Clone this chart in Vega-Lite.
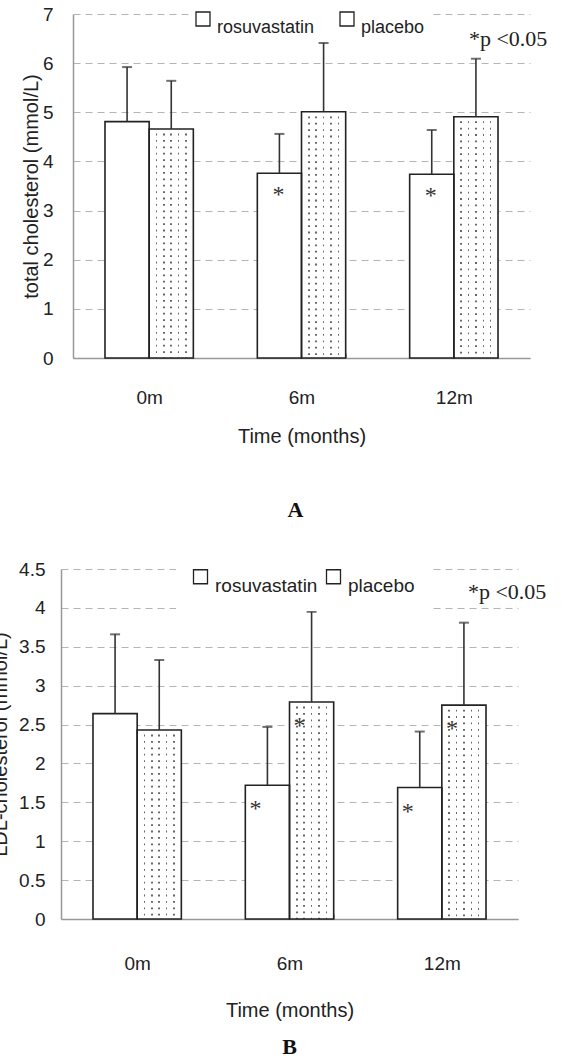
{
  "$schema": "https://vega.github.io/schema/vega-lite/v6.json",
  "autosize": {"type": "none"},
  "padding": {"left": 61, "top": 14, "right": 502, "bottom": 1045},
  "bounds": "flush",
  "spacing": 211,
  "resolve": {"scale": {"fill": "independent"}, "legend": {"fill": "independent"}},
  "config": {
    "view": {"stroke": null},
    "font": "Liberation Sans",
    "axis": {"labelColor": "#222", "titleColor": "#222", "titleFontWeight": "normal", "labelFont": "Liberation Sans", "titleFont": "Liberation Sans", "labelOverlap": false}
  },
  "datasets": {
    "tc": [
      {"time": "0m", "group": "rosuvastatin", "mean": 4.81, "upper": 5.92, "sig": false},
      {"time": "0m", "group": "placebo", "mean": 4.66, "upper": 5.64, "sig": false},
      {"time": "6m", "group": "rosuvastatin", "mean": 3.76, "upper": 4.56, "sig": true},
      {"time": "6m", "group": "placebo", "mean": 5.01, "upper": 6.41, "sig": false},
      {"time": "12m", "group": "rosuvastatin", "mean": 3.74, "upper": 4.64, "sig": true},
      {"time": "12m", "group": "placebo", "mean": 4.91, "upper": 6.09, "sig": false}
    ],
    "ldl": [
      {"time": "0m", "group": "rosuvastatin", "mean": 2.64, "upper": 3.66, "sig": false},
      {"time": "0m", "group": "placebo", "mean": 2.43, "upper": 3.33, "sig": false},
      {"time": "6m", "group": "rosuvastatin", "mean": 1.72, "upper": 2.47, "sig": true},
      {"time": "6m", "group": "placebo", "mean": 2.79, "upper": 3.95, "sig": true},
      {"time": "12m", "group": "rosuvastatin", "mean": 1.69, "upper": 2.41, "sig": true},
      {"time": "12m", "group": "placebo", "mean": 2.75, "upper": 3.81, "sig": true}
    ]
  },
  "vconcat": [
    {
      "width": 469,
      "height": 344,
      "data": {"name": "tc"},
      "title": {"text": "A", "orient": "bottom", "font": "Liberation Serif", "fontSize": 22, "fontWeight": "bold", "offset": 54, "anchor": "middle", "color": "#111"},
      "encoding": {
        "x": {"field": "time", "type": "nominal", "sort": ["0m", "6m", "12m"],
          "scale": {"paddingInner": 0.42, "paddingOuter": 0.21, "range": [12, 469]},
          "axis": {"title": "Time (months)", "labelAngle": 0, "tickBand": "extent", "tickSize": -5, "tickColor": "#999", "domainColor": "#999", "domainWidth": 1.5, "labelFontSize": 19, "labelPadding": 35, "titleFontSize": 20, "titleY": 84, "titleBaseline": "alphabetic", "grid": false}},
        "xOffset": {"field": "group", "type": "nominal", "sort": ["rosuvastatin", "placebo"], "scale": {"paddingInner": 0, "paddingOuter": 0}}
      },
      "layer": [
        {
          "mark": {"type": "bar"},
          "encoding": {
            "y": {"field": "mean", "type": "quantitative", "title": "total cholesterol (mmol/L)", "scale": {"domain": [0, 7], "nice": false},
              "axis": {"values": [0, 1, 2, 3, 4, 5, 6, 7], "ticks": false, "offset": -12, "domainColor": "#999", "domainWidth": 1.5, "grid": true, "gridDash": [7, 5], "gridColor": "#b5b5b5", "labelPadding": 20, "labelFontSize": 19, "titleFontSize": 20, "titleX": -42, "titleY": 172, "titleBaseline": "middle", "titleAngle": 270}},
            "fill": {"field": "group", "type": "nominal",
              "scale": {"domain": ["rosuvastatin", "placebo"], "range": ["#ffffff", "#ffffff"]},
              "legend": {"title": null, "orient": "none", "legendX": 128, "legendY": -9, "direction": "horizontal", "symbolType": "square", "symbolSize": 196, "symbolStrokeColor": "#222", "symbolStrokeWidth": 1.3, "labelFont": "Liberation Sans", "labelFontSize": 18, "labelColor": "#222", "labelBaseline": "top", "labelOffset": 5, "columnPadding": 22, "fillColor": "white", "padding": 5, "zindex": 0}}
          }
        },
        {
          "transform": [{"filter": "datum.group === 'placebo'"}],
          "mark": {"type": "bar", "fill": {"gradient": "linear", "x1": 0, "x2": 1, "y1": 0, "y2": 0, "stops": [
            {"offset": 0, "color": "#ffffff"}, {"offset": 0.15, "color": "#ffffff"}, {"offset": 0.15, "color": "#666666"}, {"offset": 0.185, "color": "#666666"}, {"offset": 0.185, "color": "#ffffff"},
            {"offset": 0.315, "color": "#ffffff"}, {"offset": 0.315, "color": "#666666"}, {"offset": 0.35, "color": "#666666"}, {"offset": 0.35, "color": "#ffffff"},
            {"offset": 0.4825, "color": "#ffffff"}, {"offset": 0.4825, "color": "#666666"}, {"offset": 0.5175, "color": "#666666"}, {"offset": 0.5175, "color": "#ffffff"},
            {"offset": 0.65, "color": "#ffffff"}, {"offset": 0.65, "color": "#666666"}, {"offset": 0.685, "color": "#666666"}, {"offset": 0.685, "color": "#ffffff"},
            {"offset": 0.815, "color": "#ffffff"}, {"offset": 0.815, "color": "#666666"}, {"offset": 0.85, "color": "#666666"}, {"offset": 0.85, "color": "#ffffff"},
            {"offset": 1, "color": "#ffffff"}]}},
          "encoding": {"y": {"field": "mean", "type": "quantitative", "title": "total cholesterol (mmol/L)",
              "axis": {"values": [0, 1, 2, 3, 4, 5, 6, 7], "ticks": false, "offset": -12, "domainColor": "#999", "domainWidth": 1.5, "grid": true, "gridDash": [7, 5], "gridColor": "#b5b5b5", "labelPadding": 20, "labelFontSize": 19, "titleFontSize": 20, "titleX": -42, "titleY": 172, "titleBaseline": "middle", "titleAngle": 270}}}
        },
        {
          "transform": [{"filter": "datum.group === 'placebo'"}],
          "mark": {"type": "rule", "stroke": "#ffffff", "strokeWidth": 42, "strokeDash": [4.6, 1.8], "strokeCap": "butt"},
          "encoding": {"y": {"field": "mean", "type": "quantitative", "title": "total cholesterol (mmol/L)",
              "axis": {"values": [0, 1, 2, 3, 4, 5, 6, 7], "ticks": false, "offset": -12, "domainColor": "#999", "domainWidth": 1.5, "grid": true, "gridDash": [7, 5], "gridColor": "#b5b5b5", "labelPadding": 20, "labelFontSize": 19, "titleFontSize": 20, "titleX": -42, "titleY": 172, "titleBaseline": "middle", "titleAngle": 270}}, "y2": {"datum": 0}}
        },
        {
          "mark": {"type": "bar", "fill": "transparent", "stroke": "#222", "strokeWidth": 1.6},
          "encoding": {"y": {"field": "mean", "type": "quantitative", "title": "total cholesterol (mmol/L)",
              "axis": {"values": [0, 1, 2, 3, 4, 5, 6, 7], "ticks": false, "offset": -12, "domainColor": "#999", "domainWidth": 1.5, "grid": true, "gridDash": [7, 5], "gridColor": "#b5b5b5", "labelPadding": 20, "labelFontSize": 19, "titleFontSize": 20, "titleX": -42, "titleY": 172, "titleBaseline": "middle", "titleAngle": 270}}}
        },
        {
          "mark": {"type": "rule", "stroke": "#333", "strokeWidth": 1.6},
          "encoding": {"y": {"field": "mean", "type": "quantitative", "title": "total cholesterol (mmol/L)",
              "axis": {"values": [0, 1, 2, 3, 4, 5, 6, 7], "ticks": false, "offset": -12, "domainColor": "#999", "domainWidth": 1.5, "grid": true, "gridDash": [7, 5], "gridColor": "#b5b5b5", "labelPadding": 20, "labelFontSize": 19, "titleFontSize": 20, "titleX": -42, "titleY": 172, "titleBaseline": "middle", "titleAngle": 270}}, "y2": {"field": "upper"}}
        },
        {
          "mark": {"type": "tick", "orient": "horizontal", "size": 10, "thickness": 2, "color": "#333"},
          "encoding": {"y": {"field": "upper", "type": "quantitative", "title": "total cholesterol (mmol/L)",
              "axis": {"values": [0, 1, 2, 3, 4, 5, 6, 7], "ticks": false, "offset": -12, "domainColor": "#999", "domainWidth": 1.5, "grid": true, "gridDash": [7, 5], "gridColor": "#b5b5b5", "labelPadding": 20, "labelFontSize": 19, "titleFontSize": 20, "titleX": -42, "titleY": 172, "titleBaseline": "middle", "titleAngle": 270}}}
        },
        {
          "transform": [{"filter": "datum.sig"}],
          "mark": {"type": "text", "text": "*", "font": "Liberation Serif", "fontSize": 24, "color": "#333", "baseline": "middle", "dy": 22, "dx": -1},
          "encoding": {"y": {"field": "mean", "type": "quantitative", "title": "total cholesterol (mmol/L)",
              "axis": {"values": [0, 1, 2, 3, 4, 5, 6, 7], "ticks": false, "offset": -12, "domainColor": "#999", "domainWidth": 1.5, "grid": true, "gridDash": [7, 5], "gridColor": "#b5b5b5", "labelPadding": 20, "labelFontSize": 19, "titleFontSize": 20, "titleX": -42, "titleY": 172, "titleBaseline": "middle", "titleAngle": 270}}}
        },
        {
          "data": {"values": [{"time": "12m", "group": "placebo", "note": "*p <0.05"}]},
          "mark": {"type": "text", "font": "Liberation Serif", "fontSize": 22, "color": "#222", "align": "left", "baseline": "alphabetic", "dx": -7},
          "encoding": {"y": {"datum": 6.34, "type": "quantitative", "title": "total cholesterol (mmol/L)",
              "axis": {"values": [0, 1, 2, 3, 4, 5, 6, 7], "ticks": false, "offset": -12, "domainColor": "#999", "domainWidth": 1.5, "grid": true, "gridDash": [7, 5], "gridColor": "#b5b5b5", "labelPadding": 20, "labelFontSize": 19, "titleFontSize": 20, "titleX": -42, "titleY": 172, "titleBaseline": "middle", "titleAngle": 270}}, "text": {"field": "note"}}
        }
      ]
    },
    {
      "width": 457,
      "height": 350,
      "data": {"name": "ldl"},
      "title": {"text": "B", "orient": "bottom", "font": "Liberation Serif", "fontSize": 22, "fontWeight": "bold", "offset": 17, "anchor": "middle", "color": "#111"},
      "encoding": {
        "x": {"field": "time", "type": "nominal", "sort": ["0m", "6m", "12m"],
          "scale": {"paddingInner": 0.42, "paddingOuter": 0.21},
          "axis": {"title": "Time (months)", "labelAngle": 0, "tickBand": "extent", "tickSize": -5, "tickColor": "#999", "domainColor": "#999", "domainWidth": 1.5, "labelFontSize": 19, "labelPadding": 40, "titleFontSize": 20, "titleY": 97, "titleBaseline": "alphabetic", "grid": false}},
        "xOffset": {"field": "group", "type": "nominal", "sort": ["rosuvastatin", "placebo"], "scale": {"paddingInner": 0, "paddingOuter": 0}}
      },
      "layer": [
        {
          "mark": {"type": "bar"},
          "encoding": {
            "y": {"field": "mean", "type": "quantitative", "title": "LDL-cholesterol (mmol/L)", "scale": {"domain": [0, 4.5], "nice": false},
              "axis": {"values": [0, 0.5, 1, 1.5, 2, 2.5, 3, 3.5, 4, 4.5], "labelExpr": "datum.value + ''", "ticks": false, "domainColor": "#999", "domainWidth": 1.5, "grid": true, "gridDash": [7, 5], "gridColor": "#b5b5b5", "labelPadding": 16, "labelFontSize": 19, "titleFontSize": 20, "titleX": -61, "titleY": 175, "titleBaseline": "middle", "titleAngle": 270}},
            "fill": {"field": "group", "type": "nominal",
              "scale": {"domain": ["rosuvastatin", "placebo"], "range": ["#ffffff", "#ffffff"]},
              "legend": {"title": null, "orient": "none", "legendX": 115, "legendY": -17, "direction": "horizontal", "symbolType": "square", "symbolSize": 196, "symbolStrokeColor": "#222", "symbolStrokeWidth": 1.3, "labelFont": "Liberation Sans", "labelFontSize": 19, "labelColor": "#222", "labelBaseline": "top", "labelOffset": 5, "columnPadding": 5, "fillColor": "white", "padding": 15, "zindex": 0}}
          }
        },
        {
          "transform": [{"filter": "datum.group === 'placebo'"}],
          "mark": {"type": "bar", "fill": {"gradient": "linear", "x1": 0, "x2": 1, "y1": 0, "y2": 0, "stops": [
            {"offset": 0, "color": "#ffffff"}, {"offset": 0.15, "color": "#ffffff"}, {"offset": 0.15, "color": "#666666"}, {"offset": 0.185, "color": "#666666"}, {"offset": 0.185, "color": "#ffffff"},
            {"offset": 0.315, "color": "#ffffff"}, {"offset": 0.315, "color": "#666666"}, {"offset": 0.35, "color": "#666666"}, {"offset": 0.35, "color": "#ffffff"},
            {"offset": 0.4825, "color": "#ffffff"}, {"offset": 0.4825, "color": "#666666"}, {"offset": 0.5175, "color": "#666666"}, {"offset": 0.5175, "color": "#ffffff"},
            {"offset": 0.65, "color": "#ffffff"}, {"offset": 0.65, "color": "#666666"}, {"offset": 0.685, "color": "#666666"}, {"offset": 0.685, "color": "#ffffff"},
            {"offset": 0.815, "color": "#ffffff"}, {"offset": 0.815, "color": "#666666"}, {"offset": 0.85, "color": "#666666"}, {"offset": 0.85, "color": "#ffffff"},
            {"offset": 1, "color": "#ffffff"}]}},
          "encoding": {"y": {"field": "mean", "type": "quantitative", "title": "LDL-cholesterol (mmol/L)",
              "axis": {"values": [0, 0.5, 1, 1.5, 2, 2.5, 3, 3.5, 4, 4.5], "labelExpr": "datum.value + ''", "ticks": false, "domainColor": "#999", "domainWidth": 1.5, "grid": true, "gridDash": [7, 5], "gridColor": "#b5b5b5", "labelPadding": 16, "labelFontSize": 19, "titleFontSize": 20, "titleX": -61, "titleY": 175, "titleBaseline": "middle", "titleAngle": 270}}}
        },
        {
          "transform": [{"filter": "datum.group === 'placebo'"}],
          "mark": {"type": "rule", "stroke": "#ffffff", "strokeWidth": 42, "strokeDash": [4.6, 1.8], "strokeCap": "butt"},
          "encoding": {"y": {"field": "mean", "type": "quantitative", "title": "LDL-cholesterol (mmol/L)",
              "axis": {"values": [0, 0.5, 1, 1.5, 2, 2.5, 3, 3.5, 4, 4.5], "labelExpr": "datum.value + ''", "ticks": false, "domainColor": "#999", "domainWidth": 1.5, "grid": true, "gridDash": [7, 5], "gridColor": "#b5b5b5", "labelPadding": 16, "labelFontSize": 19, "titleFontSize": 20, "titleX": -61, "titleY": 175, "titleBaseline": "middle", "titleAngle": 270}}, "y2": {"datum": 0}}
        },
        {
          "mark": {"type": "bar", "fill": "transparent", "stroke": "#222", "strokeWidth": 1.6},
          "encoding": {"y": {"field": "mean", "type": "quantitative", "title": "LDL-cholesterol (mmol/L)",
              "axis": {"values": [0, 0.5, 1, 1.5, 2, 2.5, 3, 3.5, 4, 4.5], "labelExpr": "datum.value + ''", "ticks": false, "domainColor": "#999", "domainWidth": 1.5, "grid": true, "gridDash": [7, 5], "gridColor": "#b5b5b5", "labelPadding": 16, "labelFontSize": 19, "titleFontSize": 20, "titleX": -61, "titleY": 175, "titleBaseline": "middle", "titleAngle": 270}}}
        },
        {
          "mark": {"type": "rule", "stroke": "#333", "strokeWidth": 1.6},
          "encoding": {"y": {"field": "mean", "type": "quantitative", "title": "LDL-cholesterol (mmol/L)",
              "axis": {"values": [0, 0.5, 1, 1.5, 2, 2.5, 3, 3.5, 4, 4.5], "labelExpr": "datum.value + ''", "ticks": false, "domainColor": "#999", "domainWidth": 1.5, "grid": true, "gridDash": [7, 5], "gridColor": "#b5b5b5", "labelPadding": 16, "labelFontSize": 19, "titleFontSize": 20, "titleX": -61, "titleY": 175, "titleBaseline": "middle", "titleAngle": 270}}, "y2": {"field": "upper"}}
        },
        {
          "mark": {"type": "tick", "orient": "horizontal", "size": 10, "thickness": 2, "color": "#333"},
          "encoding": {"y": {"field": "upper", "type": "quantitative", "title": "LDL-cholesterol (mmol/L)",
              "axis": {"values": [0, 0.5, 1, 1.5, 2, 2.5, 3, 3.5, 4, 4.5], "labelExpr": "datum.value + ''", "ticks": false, "domainColor": "#999", "domainWidth": 1.5, "grid": true, "gridDash": [7, 5], "gridColor": "#b5b5b5", "labelPadding": 16, "labelFontSize": 19, "titleFontSize": 20, "titleX": -61, "titleY": 175, "titleBaseline": "middle", "titleAngle": 270}}}
        },
        {
          "transform": [{"filter": "datum.sig"}],
          "mark": {"type": "text", "text": "*", "font": "Liberation Serif", "fontSize": 24, "color": "#333", "baseline": "middle", "dy": 24, "dx": -12},
          "encoding": {"y": {"field": "mean", "type": "quantitative", "title": "LDL-cholesterol (mmol/L)",
              "axis": {"values": [0, 0.5, 1, 1.5, 2, 2.5, 3, 3.5, 4, 4.5], "labelExpr": "datum.value + ''", "ticks": false, "domainColor": "#999", "domainWidth": 1.5, "grid": true, "gridDash": [7, 5], "gridColor": "#b5b5b5", "labelPadding": 16, "labelFontSize": 19, "titleFontSize": 20, "titleX": -61, "titleY": 175, "titleBaseline": "middle", "titleAngle": 270}}}
        },
        {
          "data": {"values": [{"time": "12m", "group": "placebo", "note": "*p <0.05"}]},
          "mark": {"type": "text", "font": "Liberation Serif", "fontSize": 22, "color": "#222", "align": "left", "baseline": "alphabetic", "dx": 4},
          "encoding": {"y": {"datum": 4.12, "type": "quantitative", "title": "LDL-cholesterol (mmol/L)",
              "axis": {"values": [0, 0.5, 1, 1.5, 2, 2.5, 3, 3.5, 4, 4.5], "labelExpr": "datum.value + ''", "ticks": false, "domainColor": "#999", "domainWidth": 1.5, "grid": true, "gridDash": [7, 5], "gridColor": "#b5b5b5", "labelPadding": 16, "labelFontSize": 19, "titleFontSize": 20, "titleX": -61, "titleY": 175, "titleBaseline": "middle", "titleAngle": 270}}, "text": {"field": "note"}}
        }
      ]
    }
  ]
}
